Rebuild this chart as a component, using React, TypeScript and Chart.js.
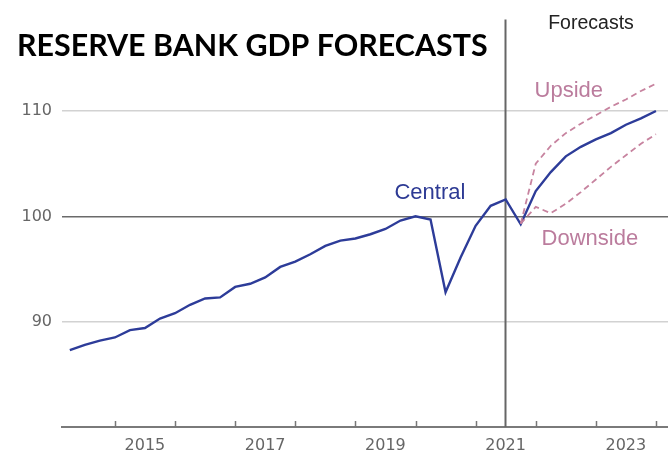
import { useEffect, useRef } from "react";
import { Chart, registerables } from "chart.js";

Chart.register(...registerables);

// ---- Data (GDP level index, Dec quarter 2019 = 100) ----
const actualQuarters = [
  2014.25, 2014.5, 2014.75, 2015.0, 2015.25, 2015.5, 2015.75, 2016.0,
  2016.25, 2016.5, 2016.75, 2017.0, 2017.25, 2017.5, 2017.75, 2018.0,
  2018.25, 2018.5, 2018.75, 2019.0, 2019.25, 2019.5, 2019.75, 2020.0,
  2020.25, 2020.5, 2020.75, 2021.0, 2021.25, 2021.5,
];
const centralActual = [
  87.3, 87.8, 88.2, 88.5, 89.2, 89.4, 90.3, 90.8,
  91.6, 92.2, 92.3, 93.3, 93.6, 94.2, 95.2, 95.7,
  96.4, 97.2, 97.7, 97.9, 98.3, 98.8, 99.6, 100.0,
  99.7, 92.8, 96.1, 99.1, 101.0, 101.6,
];
const forecastQuarters = [
  2021.75, 2022.0, 2022.25, 2022.5, 2022.75, 2023.0, 2023.25, 2023.5, 2023.75, 2024.0,
];
const centralForecast = [99.25, 102.4, 104.2, 105.7, 106.6, 107.3, 107.9, 108.7, 109.3, 110.0];
const upsideForecast = [99.3, 105.0, 106.7, 107.9, 108.8, 109.6, 110.4, 111.1, 111.9, 112.6];
const downsideForecast = [99.3, 100.9, 100.3, 101.2, 102.3, 103.5, 104.7, 105.8, 106.9, 107.8];

const yTickValues = [90, 100, 110];
const yearBoundaries = [2015, 2016, 2017, 2018, 2019, 2020, 2021, 2022, 2023, 2024];
const labeledYears = [2015, 2017, 2019, 2021, 2023];
const forecastStart = 2021.5;

const TITLE = "RESERVE BANK GDP FORECASTS";

const BLUE = "#2d3c99";
const PINK = "#c7839f";
const PINK_TEXT = "#bb7c9d";

const seriesLabels = [
  { text: "Central", x: 2020.24, y: 102.2, color: "#2d3a94" },
  { text: "Upside", x: 2022.55, y: 111.95, color: PINK_TEXT },
  { text: "Downside", x: 2022.9, y: 97.9, color: PINK_TEXT },
];

const overlayPlugin = {
  id: "overlay",
  beforeDatasetsDraw(chart: any) {
    const { ctx, chartArea, scales } = chart;
    const xs = scales.x;
    ctx.save();
    const fx = Math.round(xs.getPixelForValue(forecastStart)) - 0.5;
    ctx.strokeStyle = "#666";
    ctx.lineWidth = 2;
    ctx.beginPath();
    ctx.moveTo(fx, chartArea.top);
    ctx.lineTo(fx, chartArea.bottom);
    ctx.stroke();
    ctx.strokeStyle = "#777";
    ctx.lineWidth = 1.5;
    for (const yr of yearBoundaries) {
      const px = Math.round(xs.getPixelForValue(yr)) + 0.5;
      ctx.beginPath();
      ctx.moveTo(px, chartArea.bottom);
      ctx.lineTo(px, chartArea.bottom - 6);
      ctx.stroke();
    }
    ctx.restore();
  },
  afterDraw(chart: any) {
    const { ctx, scales } = chart;
    const xs = scales.x;
    const ys = scales.y;
    ctx.save();
    ctx.textBaseline = "middle";
    ctx.textAlign = "center";
    ctx.font = "22px 'Liberation Sans', Arial, sans-serif";
    for (const l of seriesLabels) {
      ctx.fillStyle = l.color;
      ctx.fillText(l.text, xs.getPixelForValue(l.x), ys.getPixelForValue(l.y));
    }
    ctx.fillStyle = "#222";
    ctx.font = "19.5px 'Liberation Sans', Arial, sans-serif";
    ctx.fillText("Forecasts", 591, 24);
    ctx.textAlign = "left";
    ctx.textBaseline = "alphabetic";
    ctx.fillStyle = "#000";
    ctx.font = "bold 30.4px Lato, 'Noto Sans', sans-serif";
    ctx.fillText(TITLE, 17, 56);
    ctx.restore();
  },
};

export default function App() {
  const ref = useRef<HTMLCanvasElement>(null);

  useEffect(() => {
    if (!ref.current) return;
    const central = [
      ...actualQuarters.map((q, i) => ({ x: q, y: centralActual[i] })),
      ...forecastQuarters.map((q, i) => ({ x: q, y: centralForecast[i] })),
    ];
    const upside = forecastQuarters.map((q, i) => ({ x: q, y: upsideForecast[i] }));
    const downside = forecastQuarters.map((q, i) => ({ x: q, y: downsideForecast[i] }));

    const chart = new Chart(ref.current, {
      type: "line",
      data: {
        datasets: [
          {
            label: "Upside",
            data: upside,
            borderColor: PINK,
            borderWidth: 1.8,
            borderDash: [6, 4],
            pointRadius: 0,
            fill: false,
          },
          {
            label: "Downside",
            data: downside,
            borderColor: PINK,
            borderWidth: 1.8,
            borderDash: [6, 4],
            pointRadius: 0,
            fill: false,
          },
          {
            label: "Central",
            data: central,
            borderColor: BLUE,
            borderWidth: 2.4,
            pointRadius: 0,
            fill: false,
          },
        ],
      },
      options: {
        responsive: false,
        animation: false,
        layout: { padding: { top: 17, left: 0, right: 0, bottom: 0 } },
        plugins: {
          legend: { display: false },
          tooltip: { enabled: false },
          title: { display: false },
        },
        scales: {
          x: {
            type: "linear",
            min: 2014.12,
            max: 2024.2,
            afterBuildTicks: (s: any) => {
              s.ticks = yearBoundaries.map((v) => ({ value: v }));
            },
            afterFit: (s: any) => {
              s.height = 28;
            },
            grid: { display: true, drawOnChartArea: false, drawTicks: false },
            border: { display: true, color: "#7a7a7a", width: 2 },
            ticks: {
              autoSkip: false,
              maxRotation: 0,
              labelOffset: 30,
              padding: 9,
              color: "#666",
              font: { family: "'DejaVu Sans', sans-serif", size: 16 },
              callback: (v: any) => (labeledYears.includes(Number(v)) ? String(v) : ""),
            },
          },
          y: {
            min: 80,
            max: 118.68,
            afterBuildTicks: (s: any) => {
              s.ticks = yTickValues.map((v) => ({ value: v }));
            },
            afterFit: (s: any) => {
              s.width = 62;
            },
            grid: {
              drawTicks: false,
              lineWidth: 1.5,
              color: (c: any) => (c.tick && c.tick.value === 100 ? "#6a6a6a" : "#d2d2d2"),
            },
            border: { display: false },
            ticks: {
              padding: 10,
              color: "#666",
              font: { family: "'DejaVu Sans', sans-serif", size: 16 },
            },
          },
        },
      },
      plugins: [overlayPlugin],
    });
    return () => chart.destroy();
  }, []);

  return (
    <div style={{ position: "absolute", left: 0, top: 0, width: 668, height: 455, background: "#fff" }}>
      <canvas ref={ref} width={668} height={455} />
    </div>
  );
}
